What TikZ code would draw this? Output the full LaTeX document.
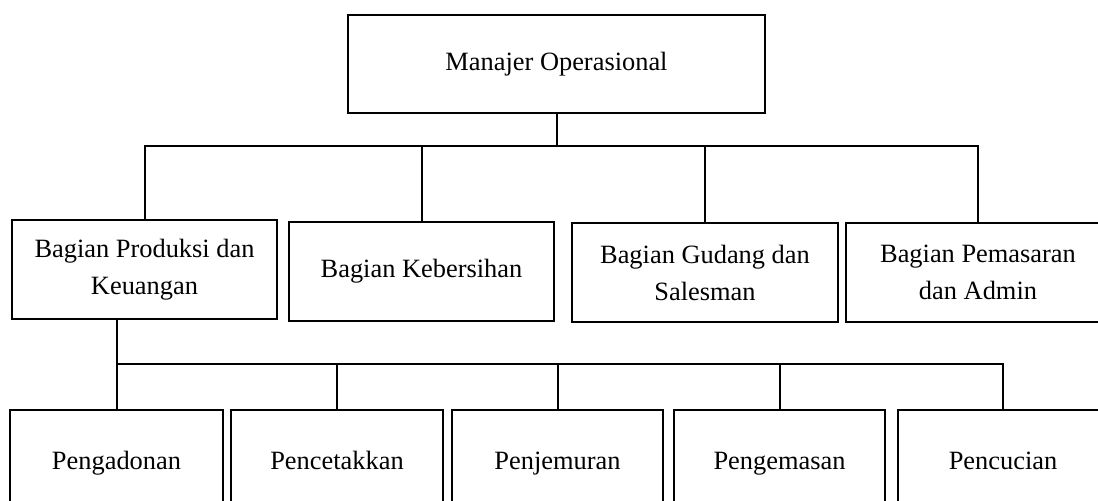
\documentclass[tikz,border=0pt]{standalone}
\usepackage{fontspec}
\setmainfont{Liberation Serif}
\begin{document}
\begin{tikzpicture}[x=0.5pt,y=-0.5pt,
  box/.style={draw,line width=1pt,inner sep=0pt,align=center,
    font=\fontsize{13.2}{18.5}\selectfont},
  lowbox/.style={box,minimum height=53pt,text height=9.3pt,text depth=2.9pt},
  conn/.style={line width=1pt}]
\useasboundingbox (0,0) rectangle (1098,501);
\begin{scope}
\clip (0,0) rectangle (1098,501);
\node[box,minimum width=208.5pt,minimum height=49pt] (top) at (556.5,64) {Manajer Operasional};
\node[box,minimum width=132.5pt,minimum height=49.5pt] (l1) at (144.5,269.5) {Bagian Produksi dan\\Keuangan};
\node[box,minimum width=132.5pt,minimum height=49.5pt] (l2) at (421.5,271.5) {Bagian Kebersihan};
\node[box,minimum width=133pt,minimum height=49.5pt] (l3) at (705,272.5) {Bagian Gudang dan\\Salesman};
\node[box,minimum width=132pt,minimum height=49.5pt] (l4) at (978,272.5) {Bagian Pemasaran\\dan Admin};
\node[lowbox,minimum width=106.5pt] (b1) at (116.5,463) {Pengadonan};
\node[lowbox,minimum width=106pt] (b2) at (337,463) {Pencetakkan};
\node[lowbox,minimum width=105.5pt] (b3) at (557.5,463) {Penjemuran};
\node[lowbox,minimum width=105.5pt] (b4) at (779.5,463) {Pengemasan};
\node[lowbox,minimum width=105pt] (b5) at (1003,463) {Pencucian};
\coordinate (busA) at (0,146);
\coordinate (busB) at (0,364);
\draw[conn] (top.south) -- (top.south |- busA);
\draw[conn] (l1.north) -- (l1.north |- busA) -| (l4.north);
\draw[conn] (l2.north |- busA) -- (l2.north);
\draw[conn] (l3.north |- busA) -- (l3.north);
\draw[conn] (b1.north |- l1.south) -- (b1.north);
\draw[conn] (b1.north |- busB) -| (b5.north);
\draw[conn] (b2.north |- busB) -- (b2.north);
\draw[conn] (b3.north |- busB) -- (b3.north);
\draw[conn] (b4.north |- busB) -- (b4.north);
\end{scope}
\end{tikzpicture}
\end{document}
